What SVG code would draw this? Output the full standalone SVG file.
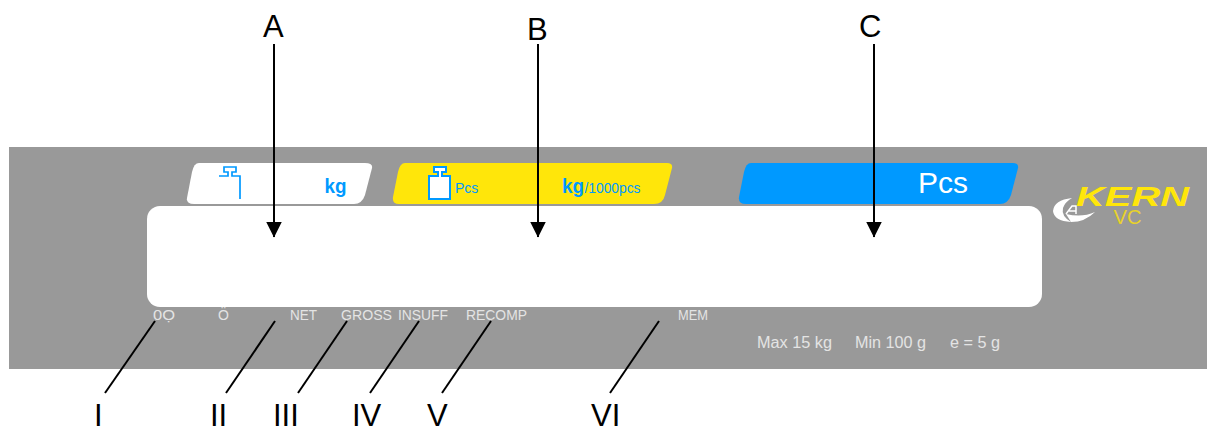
<svg xmlns="http://www.w3.org/2000/svg" width="1207" height="427" viewBox="0 0 1207 427">
<defs>
<marker id="ah" markerUnits="userSpaceOnUse" markerWidth="16" markerHeight="16" refX="15.5" refY="8" orient="auto" viewBox="0 0 16 16"><path d="M0 0L16 8L0 16Z" fill="#000"/></marker>
</defs>
<style>
text{font-family:"Liberation Sans",Arial,sans-serif}
.lab{font-size:31px;fill:#000}
.pan{font-size:14px;fill:#e4e4e4}
.spec{font-size:16px;fill:#e4e4e4}
.blue{fill:#0099ff}
.cn{stroke:#000;stroke-width:2;fill:none}
</style>
<g id="panel"><rect x="9" y="147" width="1198" height="222" fill="#999"/></g>
<g id="display"><rect x="147" y="206" width="895" height="101" rx="13" fill="#fff"/></g>
<g id="tab-kg">
<path d="M199 163H365Q373 163 372 168L365 195Q362 204 354 204H194Q186 204 187 198L192 172Q194 163 199 163Z" fill="#fff"/>
<path d="M219 176H228V172H224V167H236V172H232V176H240V199" fill="none" stroke="#0099ff" stroke-width="1.700"/>
<text x="324.500" y="193" font-size="20" font-weight="bold" class="blue" textLength="22" lengthAdjust="spacingAndGlyphs">kg</text>
</g>
<g id="tab-pcs-kg">
<path d="M405 163H667Q673 163 672 168L665 195Q663 204 654 204H399Q392 204 393 197L398 172Q400 163 405 163Z" fill="#ffe60a"/>
<path d="M429 176H438V172H434V167H446V172H442V176H450V199H429Z" fill="#fff" stroke="#0099ff" stroke-width="2"/>
<text x="455" y="193" font-size="14" class="blue">Pcs</text>
<text x="562" y="193" font-size="21" font-weight="bold" class="blue" textLength="22" lengthAdjust="spacingAndGlyphs">kg</text>
<text x="584.500" y="193" font-size="14" class="blue" textLength="56" lengthAdjust="spacingAndGlyphs">/1000pcs</text>
</g>
<g id="tab-pcs">
<path d="M751 163H1013Q1019 163 1018 168L1011 195Q1008 204 1000 204H746Q738 204 739 197L744 172Q746 163 751 163Z" fill="#0099ff"/>
<text x="918" y="193" font-size="30" fill="#fff">Pcs</text>
</g>
<g id="logo">
<text x="1076" y="206" font-size="27.500" font-weight="bold" font-style="italic" fill="#ffe60a" textLength="113" lengthAdjust="spacingAndGlyphs">KERN</text>
<text x="1113.500" y="224" font-size="20" fill="#e8d22a" textLength="28" lengthAdjust="spacingAndGlyphs">VC</text>
<path d="M1072 198Q1054 200 1053 211Q1054 221 1071 222Q1061 216 1063 208Q1065 202 1072 198ZM1066 214Q1082 218 1095 212Q1085 222 1071 222Z" fill="#fff"/>
<path d="M1066 214L1072 206H1076V214M1069 211H1076" fill="none" stroke="#fff" stroke-width="1.500"/>
</g>
<g id="indicators">
<text class="pan" x="153" y="320" textLength="22" lengthAdjust="spacingAndGlyphs">0Ọ</text>
<text class="pan" x="218" y="320">Ö</text>
<text class="pan" x="290" y="320" textLength="27" lengthAdjust="spacingAndGlyphs">NET</text>
<text class="pan" x="341" y="320" textLength="51" lengthAdjust="spacingAndGlyphs">GROSS</text>
<text class="pan" x="398" y="320" textLength="50" lengthAdjust="spacingAndGlyphs">INSUFF</text>
<text class="pan" x="466" y="320" textLength="61" lengthAdjust="spacingAndGlyphs">RECOMP</text>
<text class="pan" x="678" y="320" textLength="30" lengthAdjust="spacingAndGlyphs">MEM</text>
</g>
<g id="specs">
<text class="spec" x="757" y="348" textLength="75" lengthAdjust="spacingAndGlyphs">Max 15 kg</text>
<text class="spec" x="855" y="348" textLength="71" lengthAdjust="spacingAndGlyphs">Min 100 g</text>
<text class="spec" x="950" y="348" textLength="50" lengthAdjust="spacingAndGlyphs">e = 5 g</text>
</g>
<g id="connectors">
<line class="cn" x1="274" y1="44" x2="274" y2="237" marker-end="url(#ah)"/>
<line class="cn" x1="538" y1="44" x2="538" y2="237" marker-end="url(#ah)"/>
<line class="cn" x1="874" y1="44" x2="874" y2="237" marker-end="url(#ah)"/>
<line class="cn" x1="105" y1="393" x2="155" y2="321"/>
<line class="cn" x1="226" y1="393" x2="275" y2="321"/>
<line class="cn" x1="298" y1="393" x2="347" y2="321"/>
<line class="cn" x1="370" y1="393" x2="419" y2="321"/>
<line class="cn" x1="442" y1="393" x2="491" y2="321"/>
<line class="cn" x1="610" y1="393" x2="659" y2="321"/>
</g>
<g id="labels">
<text class="lab" x="263" y="37">A</text>
<text class="lab" x="527" y="40">B</text>
<text class="lab" x="859" y="37">C</text>
<text class="lab" x="94" y="426">I</text>
<text class="lab" x="210" y="426">II</text>
<text class="lab" x="273" y="426">III</text>
<text class="lab" x="352" y="426">IV</text>
<text class="lab" x="427" y="426">V</text>
<text class="lab" x="591" y="426">VI</text>
</g>
</svg>
